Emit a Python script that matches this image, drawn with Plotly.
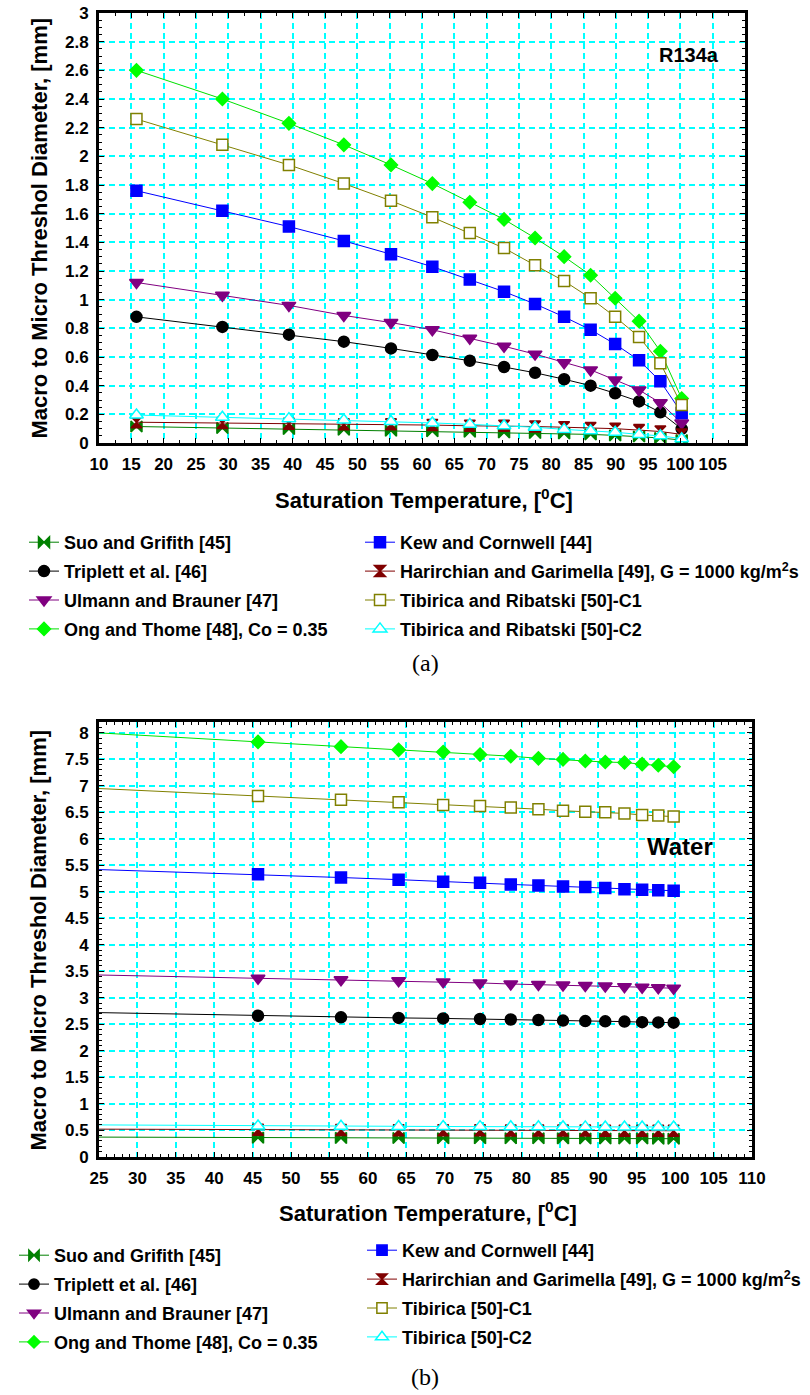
import plotly.graph_objects as go

# ---------------- data (a) R134a ----------------
xa = [15.8, 29.1, 39.4, 47.9, 55.2, 61.6, 67.4, 72.7, 77.5, 82.0, 86.1, 89.9, 93.6, 96.9, 100.2]
a_suo = [0.115, 0.105, 0.098, 0.092, 0.086, 0.082, 0.078, 0.074, 0.070, 0.066, 0.060, 0.053, 0.045, 0.035, 0.020]
a_triplett = [0.88, 0.81, 0.756, 0.707, 0.66, 0.614, 0.574, 0.53, 0.49, 0.445, 0.40, 0.347, 0.29, 0.214, 0.098]
a_ulmann = [1.12, 1.03, 0.96, 0.89, 0.84, 0.79, 0.73, 0.675, 0.62, 0.56, 0.51, 0.44, 0.37, 0.28, 0.14]
a_ong = [2.60, 2.40, 2.23, 2.08, 1.94, 1.81, 1.68, 1.56, 1.43, 1.30, 1.17, 1.01, 0.85, 0.64, 0.31]
a_kew = [1.76, 1.62, 1.51, 1.41, 1.317, 1.23, 1.14, 1.056, 0.97, 0.88, 0.79, 0.69, 0.577, 0.43, 0.21]
a_harir = [0.145, 0.14, 0.135, 0.13, 0.13, 0.125, 0.12, 0.12, 0.115, 0.11, 0.105, 0.10, 0.09, 0.08, 0.06]
a_tib1 = [2.26, 2.08, 1.94, 1.81, 1.69, 1.575, 1.465, 1.36, 1.24, 1.13, 1.01, 0.88, 0.74, 0.556, 0.265]
a_tib2 = [0.195, 0.18, 0.17, 0.16, 0.15, 0.14, 0.13, 0.12, 0.11, 0.095, 0.085, 0.075, 0.06, 0.05, 0.03]

# ---------------- data (b) Water ----------------
xb = [25, 45.7, 56.5, 64.0, 69.8, 74.6, 78.6, 82.2, 85.4, 88.3, 90.9, 93.4, 95.7, 97.8, 99.8]
b_suo = [0.37, 0.36, 0.355, 0.352, 0.35, 0.349, 0.348, 0.347, 0.346, 0.345, 0.344, 0.343, 0.342, 0.341, 0.34]
b_triplett = [2.72, 2.66, 2.63, 2.62, 2.61, 2.60, 2.59, 2.58, 2.57, 2.56, 2.555, 2.55, 2.54, 2.535, 2.53]
b_ulmann = [3.43, 3.37, 3.34, 3.32, 3.30, 3.28, 3.26, 3.25, 3.24, 3.23, 3.22, 3.21, 3.20, 3.19, 3.18]
b_ong = [8.00, 7.83, 7.74, 7.68, 7.64, 7.59, 7.56, 7.52, 7.50, 7.47, 7.45, 7.44, 7.41, 7.39, 7.36]
b_kew = [5.42, 5.33, 5.27, 5.23, 5.19, 5.17, 5.14, 5.12, 5.10, 5.09, 5.07, 5.05, 5.04, 5.03, 5.02]
b_harir = [0.52, 0.51, 0.505, 0.50, 0.50, 0.498, 0.496, 0.495, 0.494, 0.493, 0.492, 0.491, 0.49, 0.49, 0.49]
b_tib1 = [6.95, 6.81, 6.74, 6.69, 6.64, 6.62, 6.59, 6.56, 6.53, 6.51, 6.50, 6.48, 6.45, 6.44, 6.42]
b_tib2 = [0.60, 0.58, 0.575, 0.57, 0.57, 0.568, 0.566, 0.565, 0.564, 0.563, 0.562, 0.561, 0.56, 0.56, 0.56]

xticks_a = list(range(10, 106, 5))
xticks_b = list(range(25, 111, 5))

names_a = ["Suo and Grifith [45]", "Triplett et al. [46]", "Ulmann and Brauner [47]",
           "Ong and Thome [48], Co = 0.35", "Kew and Cornwell [44]",
           "Harirchian and Garimella [49], G = 1000 kg/m<sup>2</sup>s",
           "Tibirica and Ribatski [50]-C1", "Tibirica and Ribatski [50]-C2"]
names_b = ["Suo and Grifith [45]", "Triplett et al. [46]", "Ulmann and Brauner [47]",
           "Ong and Thome [48], Co = 0.35", "Kew and Cornwell [44]",
           "Harirchian and Garimella [49], G = 1000 kg/m<sup>2</sup>s",
           "Tibirica [50]-C1", "Tibirica [50]-C2"]

# styles: (line color, marker symbol, marker fill, marker line color, size)
styles = [
    ("#008000", "bowtie", "#008000", "#008000", 11),
    ("#000000", "circle", "#000000", "#000000", 11),
    ("#800080", "triangle-down", "#800080", "#800080", 12),
    ("#00E000", "diamond", "#00FF00", "#00FF00", 10),
    ("#0000FF", "square", "#0000FF", "#0000FF", 11),
    ("#800000", "hourglass", "#800000", "#800000", 11),
    ("#808000", "square", "#FFFFFF", "#808000", 11),
    ("#00FFFF", "triangle-up", "#FFFFFF", "#00FFFF", 12),
]

data_a = [a_suo, a_triplett, a_ulmann, a_ong, a_kew, a_harir, a_tib1, a_tib2]
data_b = [b_suo, b_triplett, b_ulmann, b_ong, b_kew, b_harir, b_tib1, b_tib2]

FONT = "Liberation Sans, Arial, sans-serif"

fig = go.Figure()

for i, (ys, nm, st) in enumerate(zip(data_a, names_a, styles)):
    lc, sym, fc, mlc, sz = st
    fig.add_trace(go.Scatter(
        x=xa, y=ys, mode="lines+markers", name="<b>" + nm + "</b>",
        line=dict(color=lc, width=1),
        marker=dict(symbol=sym, size=sz, color=fc, opacity=1,
                    line=dict(color=mlc, width=1.5)),
        xaxis="x", yaxis="y",
        legend="legend" if i < 4 else "legend2",
        legendgroup="a%d" % i,
    ))

for i, (ys, nm, st) in enumerate(zip(data_b, names_b, styles)):
    lc, sym, fc, mlc, sz = st
    sizes = [0] + [sz] * (len(xb) - 1)
    fig.add_trace(go.Scatter(
        x=xb, y=ys, mode="lines+markers", name="<b>" + nm + "</b>",
        line=dict(color=lc, width=1),
        marker=dict(symbol=sym, size=sizes, color=fc, opacity=1,
                    line=dict(color=mlc, width=1.5)),
        xaxis="x2", yaxis="y2",
        legend="legend3" if i < 4 else "legend4",
        legendgroup="b%d" % i,
    ))

W, H = 810, 1395


def px_x(p):
    return p / W


def px_y(p):
    return (H - p) / H


tickfont = dict(family=FONT, size=17, color="black", weight=700)
grid = dict(showgrid=True, gridcolor="#00FFFF", gridwidth=1.5, griddash="6px,4px")
axline = dict(showline=True, linecolor="black", linewidth=3, mirror="allticks",
              ticks="inside", ticklen=5, tickcolor="black", tickwidth=1,
              zeroline=False, automargin=False, ticklabelstandoff=4)

fig.update_layout(
    width=W, height=H,
    margin=dict(l=0, r=0, t=0, b=0),
    paper_bgcolor="white", plot_bgcolor="white",
    xaxis=dict(domain=[px_x(99), px_x(745)], range=[10, 110], tickvals=xticks_a,
               tickfont=tickfont, anchor="y",
               minor=dict(dtick=2.5, ticks="inside", ticklen=3, tickcolor="black", showgrid=False),
               **grid, **axline),
    yaxis=dict(domain=[px_y(443), px_y(13)], range=[0, 3], dtick=0.2, tick0=0,
               tickfont=tickfont, anchor="x",
               minor=dict(dtick=0.05, ticks="inside", ticklen=3, tickcolor="black", showgrid=False),
               **grid, **axline),
    xaxis2=dict(domain=[px_x(99), px_x(752)], range=[25, 110], tickvals=xticks_b,
                tickfont=tickfont, anchor="y2",
                minor=dict(dtick=1, ticks="inside", ticklen=3, tickcolor="black", showgrid=False),
                **grid, **axline),
    yaxis2=dict(domain=[px_y(1156.7), px_y(722.3)], range=[0, 8.2], dtick=0.5, tick0=0,
                tickfont=tickfont, anchor="x2",
                minor=dict(dtick=0.1, ticks="inside", ticklen=3, tickcolor="black", showgrid=False),
                **grid, **axline),
    showlegend=True,
)

legfont = dict(family=FONT, size=18, color="black")
common_leg = dict(orientation="v", bgcolor="rgba(0,0,0,0)", font=legfont,
                  xanchor="left", yanchor="top", tracegroupgap=2.5, itemwidth=30)
fig.update_layout(
    legend=dict(x=px_x(24), y=px_y(524), **common_leg),
    legend2=dict(x=px_x(360), y=px_y(524), **common_leg),
    legend3=dict(x=px_x(14), y=px_y(1237), **common_leg),
    legend4=dict(x=px_x(362), y=px_y(1232), **common_leg),
)

titlefont = dict(family=FONT, size=22, color="black")
ann = [
    dict(text="<b>Macro to Micro Threshol Diameter, [mm]</b>", x=px_x(38.5), y=px_y(228),
         textangle=-90, font=titlefont),
    dict(text="<b>Saturation Temperature, [<sup>0</sup>C]</b>", x=px_x(424), y=px_y(499),
         font=titlefont),
    dict(text="<b>Macro to Micro Threshol Diameter, [mm]</b>", x=px_x(38.5), y=px_y(940),
         textangle=-90, font=titlefont),
    dict(text="<b>Saturation Temperature, [<sup>0</sup>C]</b>", x=px_x(428), y=px_y(1212),
         font=titlefont),
    dict(text="<b>R134a</b>", x=px_x(689), y=px_y(55), font=dict(family=FONT, size=20, color="black")),
    dict(text="<b>Water</b>", x=px_x(680), y=px_y(846), font=dict(family=FONT, size=24, color="black")),
    dict(text="(a)", x=px_x(425), y=px_y(663), font=dict(family="Liberation Serif, Times New Roman, serif", size=24, color="black")),
    dict(text="(b)", x=px_x(425), y=px_y(1377), font=dict(family="Liberation Serif, Times New Roman, serif", size=24, color="black")),
]
for a in ann:
    a.update(xref="paper", yref="paper", showarrow=False, xanchor="center", yanchor="middle")
fig.update_layout(annotations=ann)

fig.write_html("out.html", config={"displayModeBar": False},
               post_script="document.body.style.margin='0';document.body.style.padding='0';")
